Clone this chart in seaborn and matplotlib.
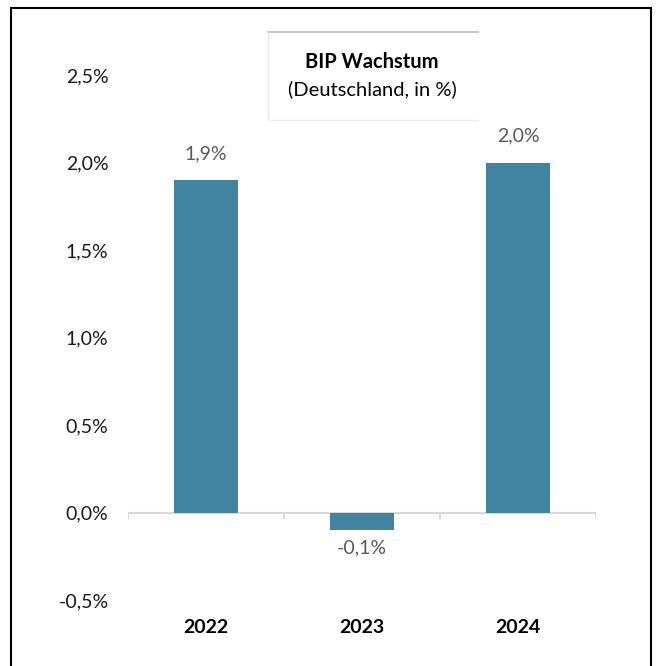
import matplotlib
matplotlib.use("Agg")
import matplotlib.pyplot as plt
from matplotlib.lines import Line2D
from matplotlib.patches import Rectangle
import seaborn as sns
import pandas as pd

years = ["2022", "2023", "2024"]
growth = [1.9, -0.1, 2.0]
ytick_values = [-0.5, 0.0, 0.5, 1.0, 1.5, 2.0, 2.5]
title_line1 = "BIP Wachstum"
title_line2 = "(Deutschland, in %)"

def fmt(v):
    return f"{v:.1f}%".replace(".", ",")

sns.set_theme(style="white")
plt.rcParams["font.family"] = ["Lato", "DejaVu Sans"]

W, H = 660, 666
fig = plt.figure(figsize=(W / 100, H / 100), dpi=100)
fig.patch.set_facecolor("white")

# axes: x from px 128 to 596, y from 75 (2.5) to 600 (-0.5)
ax = fig.add_axes([128 / W, (H - 600) / H, 468 / W, 525 / H])
df = pd.DataFrame({"Jahr": years, "Wachstum": growth})
sns.barplot(data=df, x="Jahr", y="Wachstum", color="#4084A1", saturation=1,
            width=0.41, linewidth=0, ax=ax)

ax.set_xlim(-0.5, 2.5)
ax.set_ylim(-0.5, 2.5)
ax.set_yticks(ytick_values)
ax.set_yticklabels([fmt(v) for v in ytick_values], fontsize=14, color="#1a1a1a")
ax.tick_params(axis="y", length=0, pad=14)
ax.tick_params(axis="x", length=0, pad=14)
for lbl in ax.get_xticklabels():
    lbl.set_fontweight("bold")
    lbl.set_fontsize(14)
    lbl.set_color("black")
ax.set_xlabel("")
ax.set_ylabel("")
for s in ax.spines.values():
    s.set_visible(False)

# zero line with category tick marks
ax.axhline(0, color="#d9d9d9", lw=1.5, zorder=0)
ax.vlines([-0.5, 0.5, 1.5, 2.5], -0.035, 0, color="#d9d9d9", lw=1.5, zorder=0)

# data labels
for i, v in enumerate(growth):
    if v >= 0:
        ax.annotate(fmt(v), (i, v), xytext=(0, 19), textcoords="offset points",
                    ha="center", va="center", fontsize=14, color="#595959")
    else:
        ax.annotate(fmt(v), (i, v), xytext=(0, -13), textcoords="offset points",
                    ha="center", va="center", fontsize=14, color="#595959")

# title box
def fx(px):
    return px / W

def fy(py):
    return 1 - py / H

fig.add_artist(Line2D([fx(268), fx(478)], [fy(32), fy(32)], color="#c8c8c8", lw=1.5))
fig.add_artist(Line2D([fx(268), fx(268)], [fy(32), fy(120)], color="#e6e6e6", lw=1))
fig.add_artist(Line2D([fx(268), fx(478)], [fy(120), fy(120)], color="#eeeeee", lw=1))
fig.text(fx(372), fy(62), title_line1, ha="center", va="center",
         fontsize=14.5, fontweight="bold", color="black")
fig.text(fx(372), fy(89), title_line2, ha="center", va="center",
         fontsize=14.5, color="black")

# outer frame
fig.add_artist(Rectangle((fx(11), fy(700)), fx(651) - fx(11), fy(8) - fy(700),
                         fill=False, edgecolor="black", lw=1.5,
                         transform=fig.transFigure))

fig.savefig("out.png", dpi=100)
